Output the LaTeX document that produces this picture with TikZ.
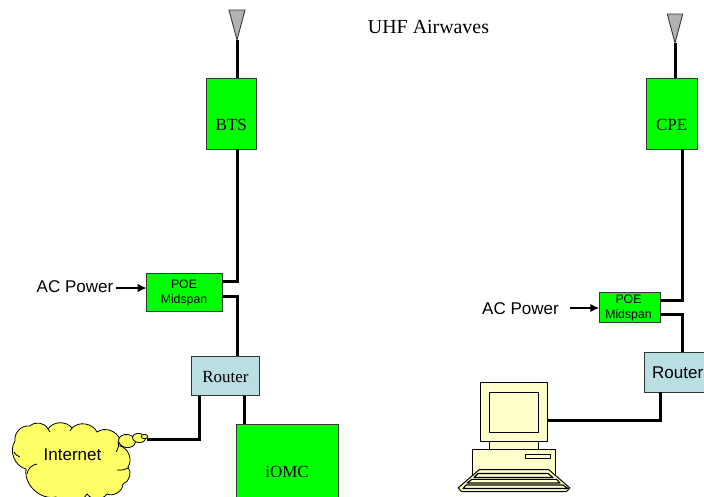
\documentclass[tikz,border=0pt]{standalone}
\usepackage{fontspec}
\setmainfont{Liberation Serif}
\newfontfamily\arialf{Liberation Sans}
\usetikzlibrary{arrows.meta}
\definecolor{boxgreen}{HTML}{00FF00}
\definecolor{routerblue}{HTML}{B9DFE3}
\definecolor{cloudyellow}{HTML}{FFFF66}
\definecolor{pcyellow}{HTML}{FFFFCC}
\definecolor{antgray}{HTML}{B2B2B2}
\definecolor{edgegray}{HTML}{303838}
\tikzset{
  box/.style={draw=edgegray,line width=0.9pt,inner sep=0pt,outer sep=0pt,anchor=north west},
  greenbox/.style={box,fill=boxgreen},
  routerbox/.style={box,fill=routerblue},
  serif/.style={font=\rmfamily\fontsize{17}{19}\selectfont,inner sep=0pt},
  sans/.style={font=\arialf\fontsize{17}{19}\selectfont,inner sep=0pt},
  poetext/.style={font=\arialf\fontsize{12.3}{14.7}\selectfont,align=center,inner sep=0pt},
  wire/.style={line width=3pt,black,line join=miter},
  feed/.style={line width=2.5pt,black,-{Latex[length=9pt,width=8.5pt]}},
  antenna/.style={draw=edgegray,line width=0.9pt,fill=antgray,line join=miter},
  pc/.style={draw=black,line width=1pt,fill=pcyellow,line join=round},
  cloudline/.style={draw=black,line width=0.8pt},
  puff/.style={draw=black,line width=0.8pt,fill=cloudyellow},
  bump/.style={bend left=55},
}
\begin{document}
\begin{tikzpicture}[x=1pt,y=-1pt]
\useasboundingbox (0,0) rectangle (704,496);
\clip (0,0) rectangle (704,496);
% ---- left side
\coordinate (anta) at (237,40);
\node[greenbox,minimum width=49.5pt,minimum height=71pt] (bts) at (206.5,78) {};
\node[serif] (btst) at (231.3,125) {BTS};
\node[greenbox,minimum width=75.3pt,minimum height=37.3pt] (poea) at (146.7,273.7) {};
\node[poetext] (poeat) at (184,293) {POE\\Midspan};
\node[routerbox,minimum width=68pt,minimum height=39.4pt] (rta) at (191.7,356.3) {};
\node[serif] (rtat) at (225.5,377) {Router};
\node[greenbox,minimum width=101.3pt,minimum height=90pt] (iomc) at (236.7,424) {};
\node[serif] (iomct) at (287,472) {iOMC};
\node[sans] (aca) at (75,287) {AC Power};
\coordinate (aja) at (237,281);
\coordinate (ajb) at (237,296);
\coordinate (rtl) at (199.7,439);
\coordinate (cloudtail) at (147,439);
\draw[wire] (anta) -- (anta |- bts.north);
\draw[wire] (aja |- bts.south) -- (aja) -- (aja -| poea.east);
\draw[wire] (ajb -| poea.east) -- (ajb) -- (ajb |- rta.north);
\draw[wire] (rtl |- rta.south) -- (rtl) -- (cloudtail);
\draw[wire] (244.3,395.7) -- (244.3,424);
\draw[feed] (aca.east) ++(3,1) -- (poea.west |- 0,288);
\draw[antenna] (229,10) -- (245,10) -- (anta) -- cycle;
% cloud
\path[puff]
  (15,441) to[bump] (30,426)
  to[bump] (48,429)
  to[bump] (72,428)
  to[bump] (97,432)
  to[bump] (120,440)
  -- (120,446)
  to[bump] (128,467)
  to[bump] (123,484)
  to[bump] (107,494)
  to[bump] (87,494)
  to[bump] (56,497)
  to[bump] (26,469)
  to[bump] (15,441) -- cycle;
\draw[cloudline] (14,452) to[bend right=20] (20,457);
\draw[cloudline] (27,474) to[bend left=35] (37,464);
\draw[cloudline] (117,470) to[bend right=15] (128,468);
\draw[cloudline] (118,441) to[bend left=25] (116,452);
\draw[cloudline] (48,429) -- (50,432);
\draw[cloudline] (72,428) -- (70,431);
\node[sans] (inet) at (72.5,455) {Internet};
\path[puff,rotate around={-8:(127,441)}] (127,441) ellipse [x radius=8.5,y radius=6.5];
\path[puff,rotate around={-8:(139,438)}] (139,438) ellipse [x radius=6.5,y radius=4.5];
\path[puff] (144.5,436.5) ellipse [x radius=3.2,y radius=2.2];
% ---- right side
\coordinate (antb) at (675,43);
\node[greenbox,minimum width=51.7pt,minimum height=71pt] (cpe) at (646,78) {};
\node[serif] (cpet) at (671.7,125) {CPE};
\node[greenbox,minimum width=60.7pt,minimum height=30.4pt] (poeb) at (599.3,292.3) {};
\node[poetext] (poebt) at (628.5,308) {POE\\Midspan};
\node[routerbox,minimum width=68pt,minimum height=39.7pt] (rtb) at (644.7,352.3) {};
\node[sans,anchor=west] (rtbt) at (652,373) {Router};
\node[sans] (acb) at (520.5,309) {AC Power};
\coordinate (bja) at (682.3,300);
\coordinate (bjb) at (682.3,314.3);
\coordinate (rbl) at (660,420.3);
\draw[wire] (antb) -- (antb |- cpe.north);
\draw[wire] (bja |- cpe.south) -- (bja) -- (bja -| poeb.east);
\draw[wire] (bjb -| poeb.east) -- (bjb) -- (bjb |- rtb.north);
\draw[feed] (570,308) -- (poeb.west |- 0,308);
\draw[antenna] (667.3,14) -- (682.7,14) -- (antb) -- cycle;
% computer
\draw[pc] (489.3,441) rectangle (538,450);
\node[pc,inner sep=0pt,outer sep=0pt,anchor=north west,minimum width=67.3pt,minimum height=59.4pt] (mon) at (480,382.3) {};
\draw[pc] (489.3,392.3) rectangle (538,432.3);
\draw[wire] (rbl |- rtb.south) -- (rbl) -- (rbl -| mon.east);
\draw[pc] (472.3,449.3) rectangle (555.3,480);
\draw[pc] (525.7,454) rectangle (550,458);
\draw[pc] (479.5,469.5) -- (548.5,469.5) -- (570,488) to[out=90,in=0] (566,491.5) -- (462,491.5) to[out=180,in=90] (458,488) -- cycle;
\draw[pc,line width=1.1pt] (478,473.5) -- (548,473.5) -- (553,477.5) -- (474,477.5) -- cycle;
\draw[pc,line width=1.1pt] (472,479.3) -- (556.5,479.3) -- (560,483) -- (467,483) -- cycle;
\draw[pc,line width=1.1pt] (466,485) -- (563,485) -- (568,488.5) -- (463,488.5) -- cycle;
% ---- top label
\node[serif,font=\rmfamily\fontsize{19.9}{22}\selectfont] (uhf) at (428.5,27) {UHF Airwaves};
\end{tikzpicture}
\end{document}
